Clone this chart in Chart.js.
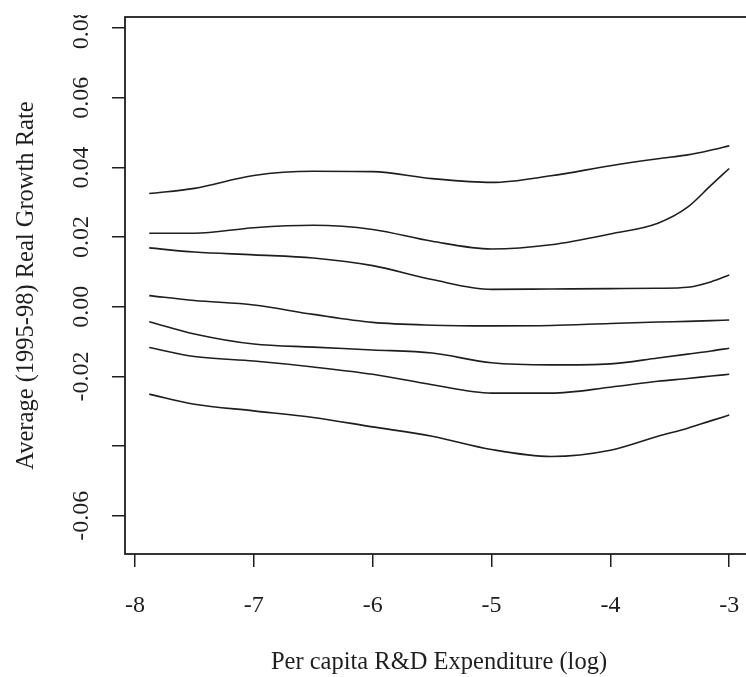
<!DOCTYPE html>
<html>
<head>
<meta charset="utf-8">
<script src="https://cdn.jsdelivr.net/npm/chart.js@4.4.1/dist/chart.umd.min.js"></script>
<style>
  html, body { margin: 0; padding: 0; background: #fff; overflow: hidden; }
  #wrap { position: absolute; left: 0; top: 0; width: 770px; height: 677px; }
</style>
</head>
<body>
<div id="wrap"><canvas id="c" width="770" height="677"></canvas></div>
<script>
// ---- data ----
const xValues = [-7.88, -7.5, -7.0, -6.5, -6.0, -5.5, -5.0, -4.5, -4.0, -3.6, -3.35, -3.15, -3.0];
const curve1 = [0.0325, 0.0340, 0.0377, 0.0389, 0.0388, 0.0368, 0.0357, 0.0376, 0.0405, 0.0425, 0.0436, 0.0450, 0.0462];
const curve2 = [0.0211, 0.0211, 0.0227, 0.0234, 0.0222, 0.0188, 0.0166, 0.0178, 0.0209, 0.0240, 0.0286, 0.0350, 0.0397];
const curve3 = [0.0169, 0.0157, 0.0149, 0.0140, 0.0118, 0.0078, 0.0050, 0.0051, 0.0052, 0.0053, 0.0056, 0.0072, 0.0091];
const curve4 = [0.0032, 0.0018, 0.0005, -0.0022, -0.0045, -0.0053, -0.0055, -0.0054, -0.0048, -0.0044, -0.0042, -0.0040, -0.0038];
const curve5 = [-0.0043, -0.0078, -0.0107, -0.0116, -0.0124, -0.0133, -0.0161, -0.0167, -0.0164, -0.0147, -0.0136, -0.0127, -0.0119];
const curve6 = [-0.0117, -0.0143, -0.0156, -0.0173, -0.0194, -0.0224, -0.0248, -0.0248, -0.0231, -0.0214, -0.0206, -0.0199, -0.0194];
const curve7 = [-0.0251, -0.0280, -0.0299, -0.0318, -0.0345, -0.0372, -0.0410, -0.0430, -0.0412, -0.0372, -0.0349, -0.0327, -0.0311];

const xTickValues = [-8, -7, -6, -5, -4, -3];
const xTickLabels = ["-8", "-7", "-6", "-5", "-4", "-3"];
const yTickValues = [0.08, 0.06, 0.04, 0.02, 0.00, -0.02, -0.04, -0.06];
const yTickLabels = ["0.08", "0.06", "0.04", "0.02", "0.00", "-0.02", "", "-0.06"];

const xTitle = "Per capita R&D Expenditure (log)";
const yTitle = "Average (1995-98) Real Growth Rate";

const curves = [curve1, curve2, curve3, curve4, curve5, curve6, curve7];

const FONT = "'Liberation Serif', 'Times New Roman', serif";
const INK = '#1e1e1e';

const datasets = curves.map(c => ({
  data: xValues.map((x, i) => ({ x: x, y: c[i] })),
  borderColor: INK,
  borderWidth: 1.6,
  pointRadius: 0,
  fill: false,
  cubicInterpolationMode: 'monotone'
}));

const boxPlugin = {
  id: 'rbox',
  afterDraw(chart) {
    const { ctx, chartArea: a } = chart;
    ctx.save();
    ctx.strokeStyle = INK;
    ctx.lineWidth = 1.8;
    ctx.strokeRect(a.left, a.top, a.right - a.left, a.bottom - a.top);
    ctx.restore();
    // rotated y tick labels (R style, las=0)
    const ys = chart.scales.y;
    ctx.save();
    ctx.beginPath();
    ctx.rect(0, 15, chart.width, chart.height);
    ctx.clip();
    ctx.fillStyle = INK;
    ctx.font = "24px " + FONT;
    ctx.textAlign = 'center';
    ctx.textBaseline = 'alphabetic';
    yTickValues.forEach((v, i) => {
      const py = ys.getPixelForValue(v);
      ctx.save();
      ctx.translate(88, py);
      ctx.rotate(-Math.PI / 2);
      ctx.fillText(yTickLabels[i], 0, 0);
      ctx.restore();
    });
    ctx.restore();
  }
};

new Chart(document.getElementById('c'), {
  type: 'line',
  data: { datasets },
  plugins: [boxPlugin],
  options: {
    responsive: false,
    animation: false,
    layout: { padding: { top: 17, right: 17, left: 0, bottom: 0 } },
    plugins: { legend: { display: false }, tooltip: { enabled: false } },
    scales: {
      x: {
        type: 'linear',
        min: -8.084,
        max: -2.80,
        afterBuildTicks: s => { s.ticks = xTickValues.map(v => ({ value: v })); },
        afterFit: s => { s.height = 123; },
        border: { display: false },
        grid: { drawOnChartArea: false, drawTicks: true, tickLength: 13, color: INK, lineWidth: 1.5 },
        ticks: {
          color: INK,
          font: { family: FONT, size: 24 },
          padding: 24,
          maxRotation: 0,
          autoSkip: false,
          callback: (v) => { const i = xTickValues.indexOf(v); return i >= 0 ? xTickLabels[i] : ''; }
        },
        title: {
          display: true,
          text: xTitle,
          color: INK,
          font: { family: FONT, size: 24.5 },
          padding: { top: 0, bottom: 0 }
        }
      },
      y: {
        type: 'linear',
        min: -0.071,
        max: 0.0832,
        afterBuildTicks: s => { s.ticks = yTickValues.map(v => ({ value: v })); },
        afterFit: s => { s.width = 125; },
        border: { display: false },
        grid: { drawOnChartArea: false, drawTicks: true, tickLength: 13, color: INK, lineWidth: 1.5 },
        ticks: { display: false },
        title: {
          display: true,
          text: yTitle,
          color: INK,
          font: { family: FONT, size: 24.5 },
          padding: { top: 12, bottom: 0 }
        }
      }
    }
  }
});
</script>
</body>
</html>
